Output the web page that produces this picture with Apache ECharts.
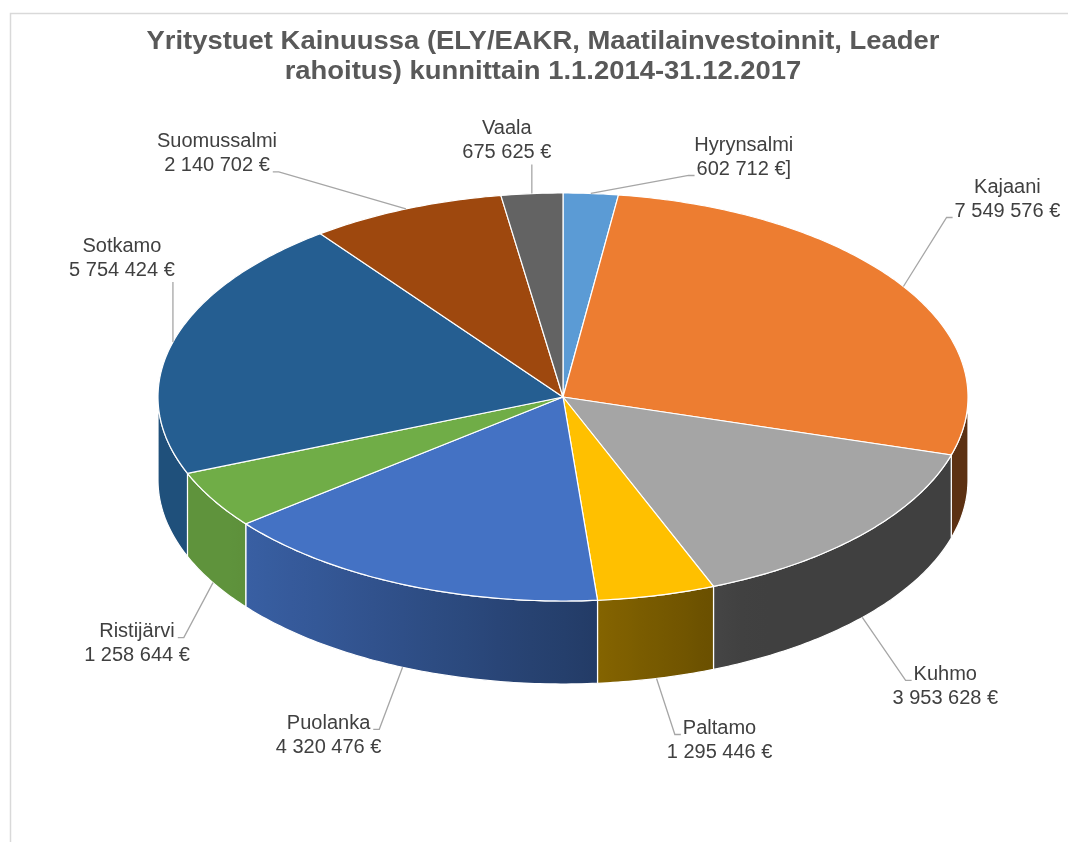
<!DOCTYPE html>
<html>
<head>
<meta charset="utf-8">
<script src="https://cdn.jsdelivr.net/npm/echarts@6/dist/echarts.min.js"></script>
<style>
  html, body { margin: 0; padding: 0; background: #fff; }
  #pie { width: 1068px; height: 842px; }
</style>
</head>
<body>
<div id="pie"></div>
<script>
// data, clockwise from 12 o'clock
var municipalities = ['Hyrynsalmi', 'Kajaani', 'Kuhmo', 'Paltamo', 'Puolanka', 'Ristijärvi', 'Sotkamo', 'Suomussalmi', 'Vaala'];
var amounts = [602712, 7549576, 3953628, 1295446, 4320476, 1258644, 5754424, 2140702, 675625];
var amountTexts = ['602 712 €]', '7 549 576 €', '3 953 628 €', '1 295 446 €', '4 320 476 €', '1 258 644 €', '5 754 424 €', '2 140 702 €', '675 625 €'];

// style / layout
var colors = ['#5B9BD5', '#ED7D31', '#A5A5A5', '#FFC000', '#4472C4', '#70AD47', '#255E91', '#9E480E', '#636363'];
// where the first label line sits, relative to the leader anchor on the pie edge
var labelOffsets = [[153, -48], [104, -99], [83, 57], [63, 50], [-74, 56], [-76, 49], [-51, -96], [-189, -67], [-25, -65]];

var cx = 563, cy = 397, rx = 405, ry = 204, depth = 83;
var labelFont = "20px 'Liberation Sans', Arial, sans-serif";

var total = amounts.reduce(function (a, b) { return a + b; }, 0);
var startAngles = [];
var acc = 0;
for (var k = 0; k < amounts.length; k++) {
    startAngles.push(acc / total * 360);
    acc += amounts[k];
}

var measureCtx = document.createElement('canvas').getContext('2d');
measureCtx.font = labelFont;
function textWidth(t) { return measureCtx.measureText(t).width; }

function pt(deg, dy) {
    var r = deg * Math.PI / 180;
    return [cx + rx * Math.sin(r), cy - ry * Math.cos(r) + (dy || 0)];
}
function arc(a0, a1, dy) {
    var pts = [];
    var n = Math.max(2, Math.ceil(Math.abs(a1 - a0) / 0.75));
    for (var j = 0; j <= n; j++) {
        pts.push(pt(a0 + (a1 - a0) * j / n, dy));
    }
    return pts;
}
function shade(hex, f) {
    var n = parseInt(hex.slice(1), 16);
    var r = Math.round(((n >> 16) & 255) * f);
    var g = Math.round(((n >> 8) & 255) * f);
    var b = Math.round((n & 255) * f);
    return 'rgb(' + r + ',' + g + ',' + b + ')';
}
function lightAt(deg) {
    var s = -Math.sin(deg * Math.PI / 180);
    return Math.max(0.39, Math.min(0.85, 0.55 + 0.36 * s));
}

function renderSlice(params, api) {
    var i = params.dataIndex;
    var a0 = startAngles[i];
    var a1 = a0 + api.value(0) / total * 360;
    var color = colors[i];
    var children = [];

    // outer wall, only the front half is visible
    if (a1 > 90 && a0 < 270) {
        var s = Math.max(a0, 90), e = Math.min(a1, 270);
        var top = arc(s, e, 0);
        var bottom = arc(e, s, depth);
        var xRight = pt(s)[0], xLeft = pt(e)[0];
        var stops = [];
        var m = 12;
        for (var j = 0; j <= m; j++) {
            var d = s + (e - s) * j / m;
            var off = (pt(d)[0] - xLeft) / Math.max(1, xRight - xLeft);
            stops.push({ offset: Math.max(0, Math.min(1, off)), color: shade(color, lightAt(d)) });
        }
        stops.sort(function (p, q) { return p.offset - q.offset; });
        children.push({
            type: 'polygon',
            shape: { points: top.concat(bottom) },
            style: {
                fill: { type: 'linear', x: xLeft, y: 0, x2: xRight, y2: 0, global: true, colorStops: stops },
                stroke: '#fff', lineWidth: 1.2
            }
        });
    }

    // top face
    children.push({
        type: 'polygon',
        shape: { points: [[cx, cy]].concat(arc(a0, a1, 0)) },
        style: { fill: color, stroke: '#fff', lineWidth: 1.2 }
    });

    // label + leader line
    var mid = (a0 + a1) / 2;
    var anchor = pt(mid, (mid > 90 && mid < 270) ? depth : 0);
    var off = labelOffsets[i];
    var lx = anchor[0] + off[0], ly = anchor[1] + off[1];
    var below = off[1] > 0;
    var lineY = below ? ly : ly + 24;
    var w = textWidth(below ? municipalities[i] : amountTexts[i]);
    var pts;
    if (anchor[0] < lx - w / 2) {
        var ex = lx - w / 2 - 2;
        pts = [anchor, [ex - 6, lineY + 6], [ex, lineY + 6]];
    } else if (anchor[0] > lx + w / 2) {
        var ex2 = lx + w / 2 + 3;
        pts = [anchor, [ex2 + 6, lineY + 6], [ex2, lineY + 6]];
    } else {
        pts = [anchor, [anchor[0], below ? ly - 12 : ly + 36]];
    }
    children.push({
        type: 'polyline',
        shape: { points: pts },
        style: { stroke: '#a6a6a6', lineWidth: 1.3, fill: null }
    });
    children.push({
        type: 'text',
        style: {
            text: municipalities[i] + '\n' + amountTexts[i],
            x: lx, y: ly - 12,
            align: 'center', verticalAlign: 'top',
            font: labelFont, lineHeight: 24, fill: '#404040'
        }
    });

    return { type: 'group', children: children };
}

var pieChart = echarts.init(document.getElementById('pie'));
pieChart.setOption({
    animation: false,
    backgroundColor: '#fff',
    graphic: [{
        type: 'rect',
        left: 8, top: 11, silent: true,
        shape: { width: 1100, height: 900 },
        style: { fill: 'none', stroke: '#d9d9d9', lineWidth: 1.5 }
    }, {
        // title, slightly widened like the original
        type: 'text',
        x: 543, y: 27, scaleX: 1.097, silent: true,
        style: {
            text: 'Yritystuet Kainuussa (ELY/EAKR, Maatilainvestoinnit, Leader\nrahoitus) kunnittain 1.1.2014-31.12.2017',
            align: 'center', verticalAlign: 'top',
            font: "bold 25px 'Liberation Sans', Arial, sans-serif",
            lineHeight: 30, fill: '#595959'
        }
    }],
    series: [{
        type: 'custom',
        coordinateSystem: 'none',
        data: amounts,
        renderItem: renderSlice
    }]
});
</script>
</body>
</html>
